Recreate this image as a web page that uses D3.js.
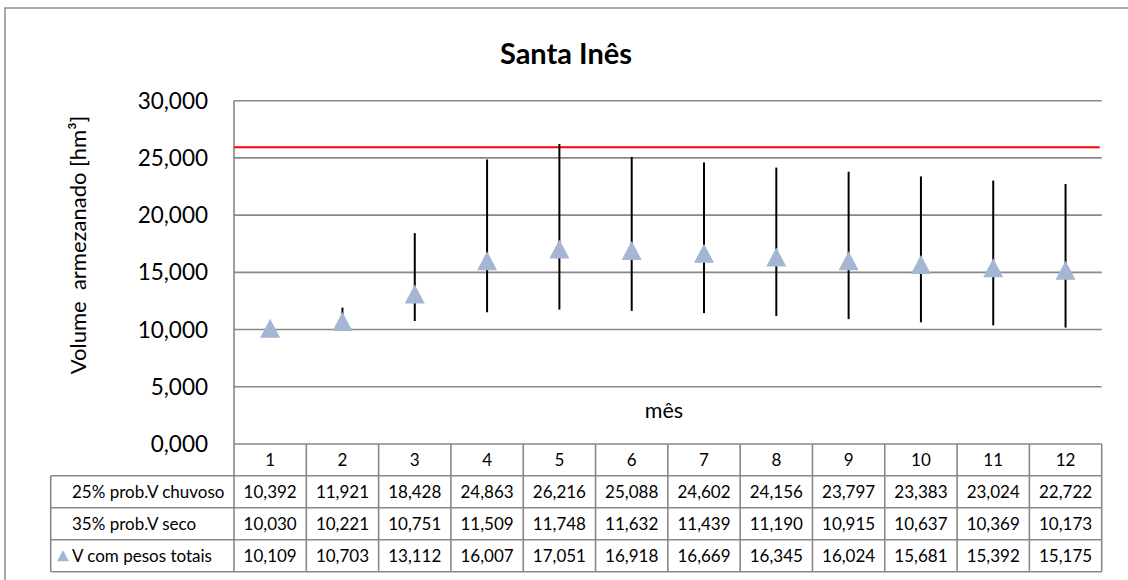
<!DOCTYPE html>
<html><head><meta charset="utf-8">
<script src="https://cdn.jsdelivr.net/npm/d3@7"></script>
<style>
body{margin:0;background:#fff;}
text{font-family:Lato,"Open Sans",sans-serif;fill:#000;}
</style></head>
<body>
<svg id="c" width="1128" height="580"></svg>
<script>
const title = "Santa Inês";
const months = ["1","2","3","4","5","6","7","8","9","10","11","12"];
const chuvoso = [10.392,11.921,18.428,24.863,26.216,25.088,24.602,24.156,23.797,23.383,23.024,22.722];
const seco = [10.030,10.221,10.751,11.509,11.748,11.632,11.439,11.190,10.915,10.637,10.369,10.173];
const pesos = [10.109,10.703,13.112,16.007,17.051,16.918,16.669,16.345,16.024,15.681,15.392,15.175];
const capacity = [25.935];
const yTicks = [0,5,10,15,20,25,30];
const rowLabels = ["25% prob.V chuvoso","35% prob.V seco","V com pesos totais"];
const yTitle = "Volume  armezanado [hm³]";
const xTitle = "mês";

const fmt = v => v.toFixed(3).replace(".", ",");

const svg = d3.select("#c");
const L = 234, R = 1101.7, T = 100.7, B = 444;
const grid = "#888";

// outer border
svg.append("rect").attr("x",5).attr("y",8).attr("width",1140).attr("height",600)
  .attr("fill","none").attr("stroke","#8c8c8c").attr("stroke-width",1.5);

const x = d3.scaleBand().domain(months).range([L,R]);
const y = d3.scaleLinear().domain([0,30]).range([B,T]);

// gridlines
svg.append("g").selectAll("line").data(yTicks.filter(d=>d>0)).join("line")
  .attr("x1",L).attr("x2",R).attr("y1",d=>y(d)).attr("y2",d=>y(d))
  .attr("stroke",grid).attr("stroke-width",1.6);

// y axis labels
const yAxis = d3.axisLeft(y).tickValues(yTicks).tickSize(0).tickPadding(26)
  .tickFormat(d=>fmt(d));
const ga = svg.append("g").attr("transform",`translate(${L},0)`).call(yAxis);
ga.select(".domain").remove();
ga.selectAll("text").style("font-size","22.5px").style("font-family","Lato,sans-serif").attr("dy","0.33em");
svg.append("line").attr("x1",L).attr("x2",L).attr("y1",T).attr("y2",B)
  .attr("stroke",grid).attr("stroke-width",1.6);

// capacity line
svg.append("g").selectAll("line").data(capacity).join("line")
  .attr("x1",L).attr("x2",R-2).attr("y1",d=>y(d)).attr("y2",d=>y(d))
  .attr("stroke","#ff0000").attr("stroke-width",2);

// error bars
svg.append("g").selectAll("line").data(months).join("line")
  .attr("x1",(d)=>x(d)+x.bandwidth()/2).attr("x2",(d)=>x(d)+x.bandwidth()/2)
  .attr("y1",(d,i)=>y(seco[i])).attr("y2",(d,i)=>y(chuvoso[i]))
  .attr("stroke","#000").attr("stroke-width",2);

// triangles
const tri = (w,h) => `M0,${-h/2}L${w/2},${h/2}L${-w/2},${h/2}Z`;
svg.append("g").selectAll("path").data(months).join("path")
  .attr("d",tri(20,19))
  .attr("transform",(d,i)=>`translate(${x(d)+x.bandwidth()/2},${y(pesos[i])})`)
  .attr("fill","#a5b5d4");

// x title
svg.append("text").attr("x",664).attr("y",410).attr("dy","0.35em").attr("text-anchor","middle")
  .style("font-size","21.5px").text(xTitle);

// y title
svg.append("text").attr("transform","translate(78,245) rotate(-90)").attr("dy","0.35em")
  .attr("text-anchor","middle").style("font-size","22px").style("white-space","pre").text(yTitle);

// title
svg.append("text").attr("x",566).attr("y",54).attr("dy","0.35em").attr("text-anchor","middle")
  .style("font-size","29px").style("font-weight","bold").text(title);

// data table
const rowY = [444, 475.7, 507.7, 539.7, 571.7];
const TL = 50.7;
const fs = "17px";
const tg = svg.append("g");
const lineStyle = s => s.attr("stroke",grid).attr("stroke-width",1.6);
tg.append("line").attr("x1",L).attr("x2",R).attr("y1",rowY[0]).attr("y2",rowY[0]).call(lineStyle);
rowY.slice(1).forEach(yy=>{
  tg.append("line").attr("x1",TL).attr("x2",R).attr("y1",yy).attr("y2",yy).call(lineStyle);
});
tg.append("line").attr("x1",TL).attr("x2",TL).attr("y1",rowY[1]).attr("y2",rowY[4]).call(lineStyle);
months.forEach(m=>{
  tg.append("line").attr("x1",x(m)).attr("x2",x(m)).attr("y1",rowY[0]).attr("y2",rowY[4]).call(lineStyle);
});
tg.append("line").attr("x1",R).attr("x2",R).attr("y1",rowY[0]).attr("y2",rowY[4]).call(lineStyle);
tg.selectAll("text.h").data(months).join("text").attr("class","h")
  .attr("x",d=>x(d)+x.bandwidth()/2).attr("y",(rowY[0]+rowY[1])/2).attr("dy","0.35em")
  .attr("text-anchor","middle").style("font-size",fs).text(d=>d);
const series = [chuvoso, seco, pesos];
series.forEach((s,r)=>{
  const cy = (rowY[r+1]+rowY[r+2])/2;
  tg.selectAll(null).data(s).join("text")
    .attr("x",(d,i)=>x(months[i])+x.bandwidth()/2).attr("y",cy).attr("dy","0.35em")
    .attr("text-anchor","middle").style("font-size",fs).text(d=>fmt(d));
  tg.append("text").attr("x",72).attr("y",cy).attr("dy","0.35em")
    .style("font-size",fs).text(rowLabels[r]);
});
tg.append("path").attr("d",tri(12,11))
  .attr("transform",`translate(${63},${(rowY[3]+rowY[4])/2})`).attr("fill","#a5b5d4");
</script>
</body></html>
